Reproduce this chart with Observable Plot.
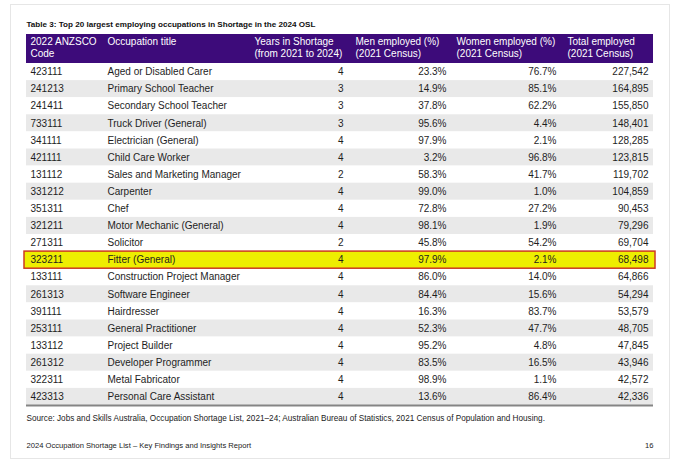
<!DOCTYPE html>
<html>
<head>
<meta charset="utf-8">
<script src="https://cdn.jsdelivr.net/npm/d3@7"></script>
<script src="https://cdn.jsdelivr.net/npm/@observablehq/plot@0.6"></script>
<style>
  html, body { margin: 0; padding: 0; background: #fff; }
</style>
</head>
<body>
<div id="chart"></div>
<script>
// ---- Data ----
const tableTitle = "Table 3: Top 20 largest employing occupations in Shortage in the 2024 OSL";
const headers = [
  "2022 ANZSCO\nCode",
  "Occupation title",
  "Years in Shortage\n(from 2021 to 2024)",
  "Men employed (%)\n(2021 Census)",
  "Women employed (%)\n(2021 Census)",
  "Total employed\n(2021 Census)"
];
const codes = ["423111","241213","241411","733111","341111","421111","131112","331212","351311","321211",
               "271311","323211","133111","261313","391111","253111","133112","261312","322311","423313"];
const titles = ["Aged or Disabled Carer","Primary School Teacher","Secondary School Teacher","Truck Driver (General)",
  "Electrician (General)","Child Care Worker","Sales and Marketing Manager","Carpenter","Chef",
  "Motor Mechanic (General)","Solicitor","Fitter (General)","Construction Project Manager","Software Engineer",
  "Hairdresser","General Practitioner","Project Builder","Developer Programmer","Metal Fabricator",
  "Personal Care Assistant"];
const yearsInShortage = [4,3,3,3,4,4,2,4,4,4,2,4,4,4,4,4,4,4,4,4];
const menPct = [23.3,14.9,37.8,95.6,97.9,3.2,58.3,99.0,72.8,98.1,45.8,97.9,86.0,84.4,16.3,52.3,95.2,83.5,98.9,13.6];
const womenPct = [76.7,85.1,62.2,4.4,2.1,96.8,41.7,1.0,27.2,1.9,54.2,2.1,14.0,15.6,83.7,47.7,4.8,16.5,1.1,86.4];
const totalEmployed = [227542,164895,155850,148401,128285,123815,119702,104859,90453,79296,
                       69704,68498,64866,54294,53579,48705,47845,43946,42572,42336];
const highlightCode = "323211";
const sourceNote = "Source: Jobs and Skills Australia, Occupation Shortage List, 2021\u201324; Australian Bureau of Statistics, 2021 Census of Population and Housing.";
const footerText = "2024 Occupation Shortage List \u2013 Key Findings and Insights Report";
const pageNumber = "16";

// ---- Layout (not data) ----
const tableLeft = 26, tableRight = 653;
const headerX = [30, 107, 254, 355, 456, 567];
const hdr = 1.696; // header height in row units
const purple = "#3d0b7a";
const ink = "#1e1e1e";

const rows = codes.map((c, i) => ({
  i, code: c, title: titles[i], years: yearsInShortage[i],
  men: menPct[i], women: womenPct[i], total: totalEmployed[i]
}));
const fmtPct = v => v.toFixed(1) + "%";
const fmtInt = d3.format(",");
const headerData = headers.map((h, i) => ({h, i}));

const chart = Plot.plot({
  width: 680,
  height: 465,
  marginLeft: 10, marginRight: 11, marginTop: 4, marginBottom: 7,
  x: {type: "linear", domain: [0, 680], range: [0, 680], axis: null},
  y: {type: "linear", domain: [-hdr, 20], range: [34, 405], axis: null},
  style: {fontFamily: "'Liberation Sans', Arial, sans-serif", fontSize: "10px", background: "#fff", color: ink},
  marks: [
    Plot.frame({stroke: "#e6e6e6"}),
    // title
    Plot.text([tableTitle], {frameAnchor: "top-left", dx: 16, dy: 17, textAnchor: "start",
      fontWeight: "bold", fontSize: 8.1, fill: "#111"}),
    // header background
    Plot.rect([0], {x1: tableLeft, x2: tableRight, y1: -hdr, y2: 0, fill: purple}),
    // zebra rows
    Plot.rect(rows, {x1: tableLeft, x2: tableRight, y1: "i", y2: d => d.i + 1,
      fill: d => d.i % 2 ? "#e9e9e9" : "#ffffff"}),
    // highlight row
    Plot.rect(rows.filter(d => d.code === highlightCode), {x1: tableLeft - 2, x2: tableRight + 2,
      y1: "i", y2: d => d.i + 1, fill: "#eeee00", stroke: "#cc3a22", strokeWidth: 1.5}),
    // bottom rule
    Plot.ruleY([20], {x1: tableLeft, x2: tableRight, stroke: "#858585", strokeWidth: 2}),
    // header text
    Plot.text(headerData, {x: d => headerX[d.i], y: -hdr, dy: 2.5, text: "h", lineAnchor: "top",
      textAnchor: "start", lineHeight: 1.18, fill: "#fff", fontSize: 10}),
    // rows
    Plot.text(rows, {x: 30, y: d => d.i + 0.5, text: "code", textAnchor: "start", fill: ink}),
    Plot.text(rows, {x: 107, y: d => d.i + 0.5, text: "title", textAnchor: "start", fill: ink}),
    Plot.text(rows, {x: 343, y: d => d.i + 0.5, text: d => String(d.years), textAnchor: "end", fill: ink}),
    Plot.text(rows, {x: 446, y: d => d.i + 0.5, text: d => fmtPct(d.men), textAnchor: "end", fill: ink}),
    Plot.text(rows, {x: 556, y: d => d.i + 0.5, text: d => fmtPct(d.women), textAnchor: "end", fill: ink}),
    Plot.text(rows, {x: 648, y: d => d.i + 0.5, text: d => fmtInt(d.total), textAnchor: "end", fill: ink}),
    // source and footer
    Plot.text([sourceNote], {frameAnchor: "bottom-left", dx: 16, dy: -38, textAnchor: "start", fontSize: 8.2, fill: "#222"}),
    Plot.text([footerText], {frameAnchor: "bottom-left", dx: 16, dy: -11, textAnchor: "start", fontSize: 7.6, fill: "#222"}),
    Plot.text([pageNumber], {frameAnchor: "bottom-right", dx: -16, dy: -11, textAnchor: "end", fontSize: 7.6, fill: "#222"})
  ]
});
document.getElementById("chart").append(chart);
</script>
</body>
</html>
